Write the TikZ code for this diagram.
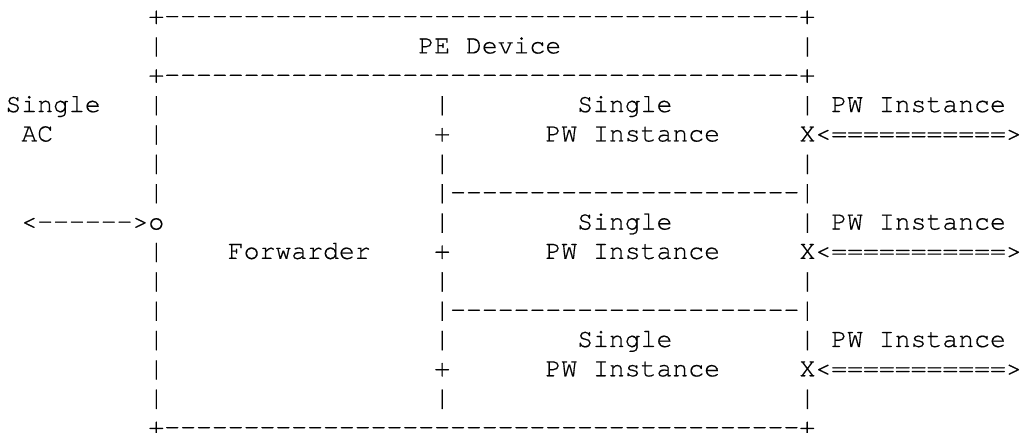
\documentclass[tikz,border=0pt]{standalone}
\usepackage{fontspec}
\setmonofont[FakeBold=0.5]{TeX Gyre Cursor}
\tikzset{txt/.style={anchor=base west,inner sep=0pt,outer sep=0pt,font=\ttfamily\fontsize{26.46pt}{29.36pt}\selectfont}}
\newcommand\asc[3]{\node[txt] (r#1c#2) at ({5.5+#2*15.88},{433-24-(#1-1)*29.36}) {#3};}
\begin{document}
\begin{tikzpicture}[x=1pt,y=1pt]
\useasboundingbox (0,0) rectangle (1029,433);
% row 1
\asc{1}{9}{+----------------------------------------+}
% row 2
\asc{2}{9}{|}\asc{2}{26}{PE Device}\asc{2}{50}{|}
% row 3
\asc{3}{9}{+----------------------------------------+}
% row 4
\asc{4}{0}{Single}\asc{4}{9}{|}\asc{4}{27}{|}\asc{4}{36}{Single}\asc{4}{50}{|}\asc{4}{52}{PW Instance}
% row 5
\asc{5}{1}{AC}\asc{5}{9}{|}\asc{5}{27}{+}\asc{5}{34}{PW Instance}\asc{5}{50}{X<===========>}
% row 6
\asc{6}{9}{|}\asc{6}{27}{|}\asc{6}{50}{|}
% row 7
\asc{7}{9}{|}\asc{7}{27}{|----------------------|}
% row 8
\asc{8}{1}{<------>o}\asc{8}{27}{|}\asc{8}{36}{Single}\asc{8}{50}{|}\asc{8}{52}{PW Instance}
% row 9
\asc{9}{9}{|}\asc{9}{14}{Forwarder}\asc{9}{27}{+}\asc{9}{34}{PW Instance}\asc{9}{50}{X<===========>}
% row 10
\asc{10}{9}{|}\asc{10}{27}{|}\asc{10}{50}{|}
% row 11
\asc{11}{9}{|}\asc{11}{27}{|----------------------|}
% row 12
\asc{12}{9}{|}\asc{12}{27}{|}\asc{12}{36}{Single}\asc{12}{50}{|}\asc{12}{52}{PW Instance}
% row 13
\asc{13}{9}{|}\asc{13}{27}{+}\asc{13}{34}{PW Instance}\asc{13}{50}{X<===========>}
% row 14
\asc{14}{9}{|}\asc{14}{27}{|}\asc{14}{50}{|}
% row 15
\asc{15}{9}{+----------------------------------------+}
\end{tikzpicture}
\end{document}
